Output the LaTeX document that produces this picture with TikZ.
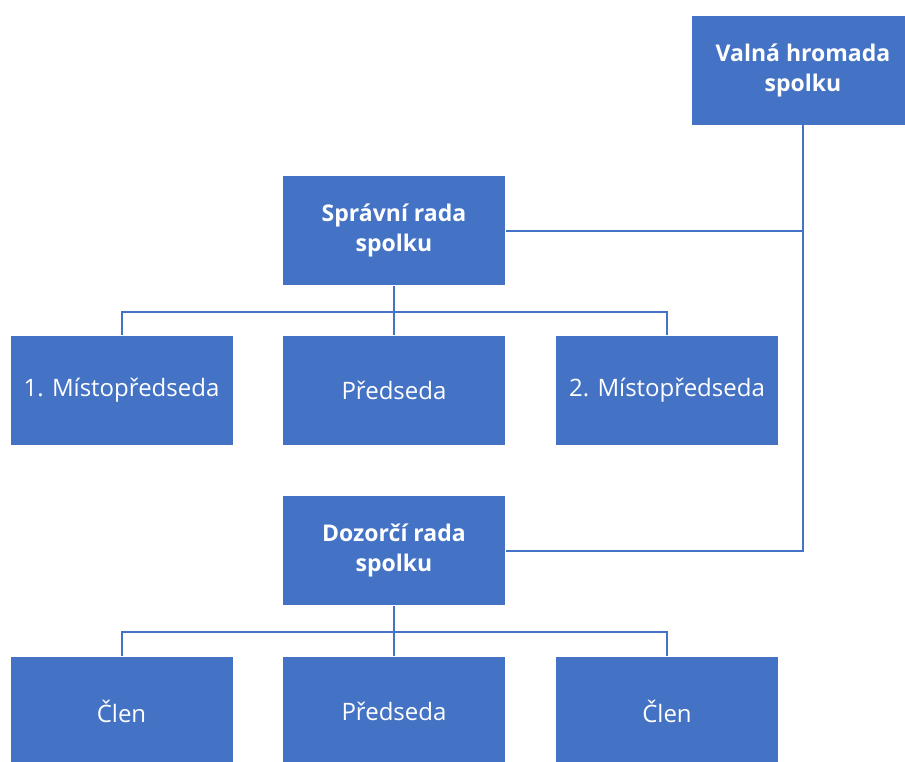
\documentclass[tikz,border=0pt]{standalone}
\usepackage{fontspec}
\setmainfont{Open Sans}
\definecolor{ob}{HTML}{4472C4}
\begin{document}
\begin{tikzpicture}[x=1pt,y=-1pt,
  box/.style={fill=ob,draw=white,line width=0.8pt,minimum width=223pt,minimum height=110pt,inner sep=0pt,text=white,font=\fontsize{24}{30}\selectfont,align=center},
  head/.style={box,font=\fontsize{23}{30}\selectfont\bfseries},
  conn/.style={draw=ob,line width=2pt}]
\useasboundingbox (0,0) rectangle (905,761);
\node[head] (valna) at (803,70) {Valná hromada\\spolku};
\node[head] (spravni) at (394,230.5) {Správní rada\\spolku};
\node[box] (m1) at (121.5,390.5) {1. Místopředseda};
\node[box] (p1) at (394,390.5) {Předseda};
\node[box] (m2) at (667,390.5) {2. Místopředseda};
\node[head] (dozorci) at (394,550.5) {Dozorčí rada\\spolku};
\node[box] (c1) at (121.5,711) {Člen};
\node[box] (p2) at (394,711) {Předseda};
\node[box] (c2) at (667,711) {Člen};
\coordinate (b1) at (394,312);
\coordinate (b2) at (394,632);
% right trunk
\draw[conn] (valna.south) |- (dozorci.east);
\draw[conn] (spravni.east) -- (spravni.east -| valna.south);
% bus 1
\draw[conn] (spravni.south) -- (p1.north);
\draw[conn] (m1.north) |- (b1) -| (m2.north);
% bus 2
\draw[conn] (dozorci.south) -- (p2.north);
\draw[conn] (c1.north) |- (b2) -| (c2.north);
\end{tikzpicture}
\end{document}
